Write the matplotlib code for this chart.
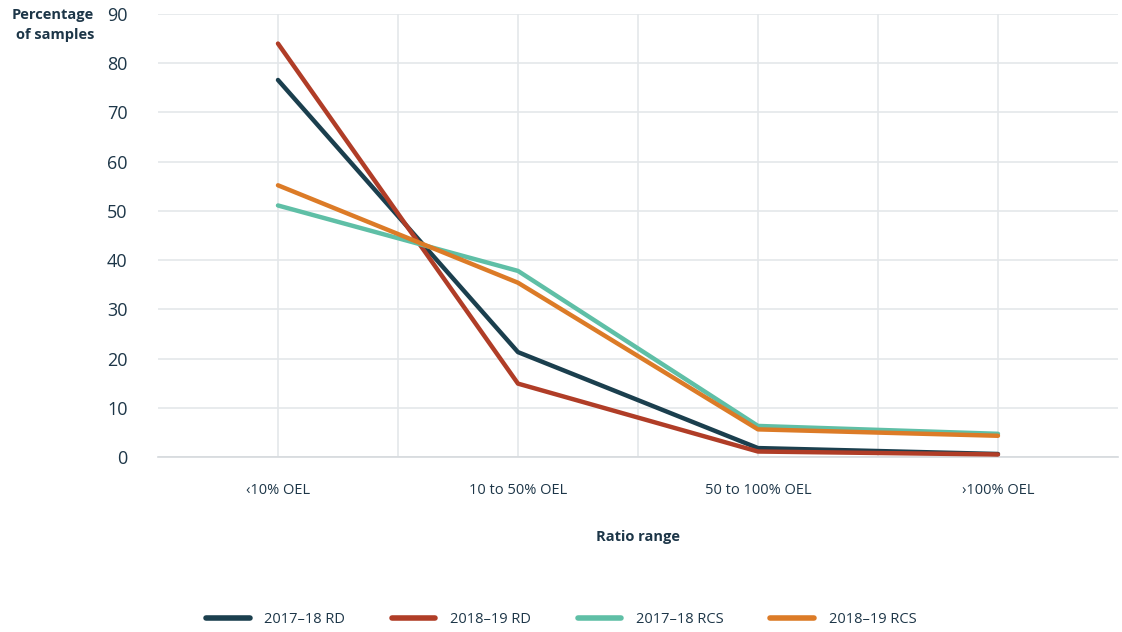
import matplotlib
matplotlib.use("Agg")
import matplotlib.pyplot as plt
import numpy as np

# Data
categories = ["‹10% OEL", "10 to 50% OEL", "50 to 100% OEL", "›100% OEL"]
rd_2017_18 = [76.6, 21.3, 1.8, 0.6]
rd_2018_19 = [84.0, 14.9, 1.1, 0.5]
rcs_2017_18 = [51.1, 37.8, 6.3, 4.7]
rcs_2018_19 = [55.2, 35.4, 5.6, 4.3]

series = [
    ("2017–18 RD", rd_2017_18, "#1b3f4e"),
    ("2018–19 RD", rd_2018_19, "#b03d27"),
    ("2017–18 RCS", rcs_2017_18, "#5fbfa6"),
    ("2018–19 RCS", rcs_2018_19, "#dc7b27"),
]

text_color = "#1d3648"
grid_color = "#e4e7ea"

plt.rcParams["font.family"] = ["Open Sans", "DejaVu Sans"]

fig = plt.figure(figsize=(11.22, 6.32), dpi=100)
ax = fig.add_axes([0.1408, 0.277, 0.8556, 0.7008])

x = np.arange(len(categories))
for label, values, color in series:
    ax.plot(x, values, color=color, linewidth=3.2, label=label,
            solid_capstyle="round", solid_joinstyle="round", zorder=3)

ax.set_xlim(-0.5, len(categories) - 0.5)
ax.set_ylim(0, 90)
ax.set_yticks(np.arange(0, 91, 10))
ax.set_xticks(x)
ax.set_xticklabels(categories)
ax.set_xticks(np.arange(0.5, len(categories) - 0.5, 1.0), minor=True)

ax.grid(axis="y", color=grid_color, linewidth=1.2, zorder=0)
ax.grid(axis="x", which="both", color=grid_color, linewidth=1.2, zorder=0)
ax.set_axisbelow(True)

for side in ["top", "right", "left"]:
    ax.spines[side].set_visible(False)
ax.spines["bottom"].set_color("#d5d9dd")
ax.spines["bottom"].set_linewidth(1.2)

ax.tick_params(axis="both", which="both", length=0)
ax.tick_params(axis="y", labelsize=13, colors=text_color, pad=22)
ax.tick_params(axis="x", labelsize=10.5, colors=text_color, pad=19)

ax.set_xlabel("Ratio range", fontsize=10.5, fontweight="bold",
              color=text_color, labelpad=23)
fig.text(0.084, 0.988, "Percentage\nof samples", ha="right", va="top",
         fontsize=10.5, fontweight="bold", color=text_color, linespacing=1.6)

leg = fig.legend(loc="center", bbox_to_anchor=(0.5, 0.02), ncol=4,
                 frameon=False, fontsize=10.5, handlelength=3,
                 columnspacing=3.2, handletextpad=1.0)
for text in leg.get_texts():
    text.set_color(text_color)
for line in leg.get_lines():
    line.set_linewidth(4)
    line.set_solid_capstyle("round")

fig.savefig("out.png", dpi=100)
